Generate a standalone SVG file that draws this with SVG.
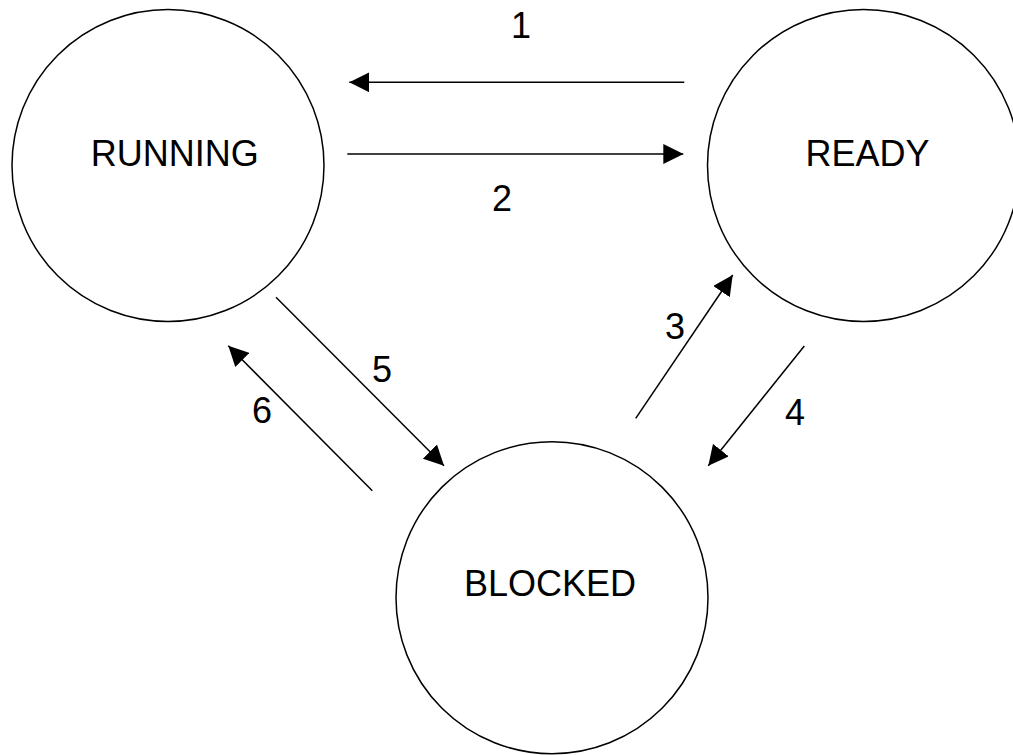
<svg xmlns="http://www.w3.org/2000/svg" width="1013" height="755" viewBox="0 0 1013 755">
  <defs>
    <style>
      .node { fill: #ffffff; stroke: #000000; stroke-width: 1.5; }
      .label { font-family: "Liberation Sans", Arial, sans-serif; font-size: 36px; fill: #000000; text-anchor: middle; }
      .edge { stroke: #000000; stroke-width: 1.5; fill: none; marker-end: url(#arrow); }
    </style>
    <marker id="arrow" markerUnits="userSpaceOnUse" markerWidth="20" markerHeight="20" refX="20" refY="10" orient="auto" viewBox="0 0 20 20">
      <path d="M0,0 L20,10 L0,20 z" fill="#000000"/>
    </marker>
  </defs>
  <rect x="0" y="0" width="1013" height="755" fill="#ffffff"/>
  <g id="running">
    <circle class="node" cx="168" cy="165.5" r="156"/>
    <text class="label" x="174.7" y="166">RUNNING</text>
  </g>
  <g id="ready">
    <circle class="node" cx="863.5" cy="165.5" r="156"/>
    <text class="label" x="867.5" y="166">READY</text>
  </g>
  <g id="blocked">
    <circle class="node" cx="552" cy="597.7" r="156"/>
    <text class="label" x="550" y="596">BLOCKED</text>
  </g>
  <g id="connectors">
    <line class="edge" x1="684.3" y1="82.3" x2="349.3" y2="82.3"/>
    <line class="edge" x1="347.3" y1="154" x2="683.3" y2="154"/>
    <line class="edge" x1="635.7" y1="418.3" x2="732.7" y2="275"/>
    <line class="edge" x1="804.3" y1="346" x2="708.3" y2="465.7"/>
    <line class="edge" x1="276" y1="297.3" x2="444" y2="465.7"/>
    <line class="edge" x1="372.3" y1="490.7" x2="228.3" y2="345.7"/>
    <text class="label" x="521" y="38">1</text>
    <text class="label" x="502" y="211">2</text>
    <text class="label" x="675" y="339">3</text>
    <text class="label" x="795" y="425">4</text>
    <text class="label" x="382" y="381.7">5</text>
    <text class="label" x="262" y="423.3">6</text>
  </g>
</svg>
